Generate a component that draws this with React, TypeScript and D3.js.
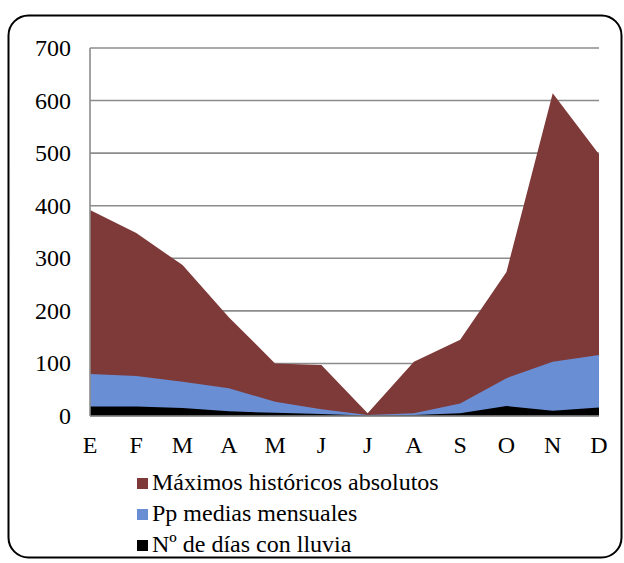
import * as d3 from 'd3';

const months = ['E', 'F', 'M', 'A', 'M', 'J', 'J', 'A', 'S', 'O', 'N', 'D'];
const maximos = [392, 348, 287, 188, 100, 97, 5, 103, 145, 274, 614, 498];
const ppMedias = [80, 76, 65, 53, 27, 13, 2, 5, 24, 72, 103, 116];
const diasLluvia = [18, 18, 15, 9, 6, 4, 1, 2, 5, 19, 10, 16];
const yTicks = [0, 100, 200, 300, 400, 500, 600, 700];

const series = [
  { name: 'Máximos históricos absolutos', values: maximos, color: '#7e3a39' },
  { name: 'Pp medias mensuales', values: ppMedias, color: '#6a8ed4' },
  { name: 'Nº de días con lluvia', values: diasLluvia, color: '#000000' },
];

const width = 624;
const height = 563;
const left = 90;
const right = 599;
const top = 48;
const bottom = 416;
const font = 'Liberation Serif';
const gridColor = '#8c8c8c';
const css = '#lluvia text { font-family: "Liberation Serif", Tinos, "Times New Roman", serif !important; }';

const App = (): React.ReactElement => {
  const xScale = d3
    .scalePoint<number>()
    .domain(months.map((_, i) => i))
    .range([left, right]);
  const yScale = d3.scaleLinear().domain([0, 700]).range([bottom, top]);

  const area = d3
    .area<number>()
    .x((_, i) => xScale(i) ?? 0)
    .y0(yScale(0))
    .y1((d) => yScale(d));

  return (
    <svg id="lluvia" width={width} height={height} style={{ position: 'absolute', left: 0, top: 0 }}>
      <style>{css}</style>
      {/* marco redondeado */}
      <rect x={8.5} y={15.5} width={613} height={542} rx={20} fill="#fff" stroke="#000" strokeWidth={2} />

      {yTicks.map((t) => (
        <line key={'g' + t} x1={left} x2={right} y1={yScale(t)} y2={yScale(t)} stroke={gridColor} strokeWidth={1.6} />
      ))}

      {series.map((s) => (
        <path key={s.name} d={area(s.values) ?? ''} fill={s.color} />
      ))}

      <line x1={left} x2={left} y1={top} y2={bottom} stroke={gridColor} strokeWidth={1.6} />
      <line x1={left} x2={right} y1={bottom} y2={bottom} stroke={gridColor} strokeWidth={1.6} />

      {yTicks.map((t) => (
        <text key={'y' + t} x={71} y={yScale(t) + 8} textAnchor="end" fontFamily={font} fontSize={24}>
          {t}
        </text>
      ))}

      {months.map((m, i) => (
        <text key={'m' + i} x={xScale(i) ?? 0} y={453} textAnchor="middle" fontFamily={font} fontSize={24}>
          {m}
        </text>
      ))}

      {series.map((s, i) => (
        <g key={'l' + s.name} transform={'translate(137,' + (490 + i * 31) + ')'}>
          <rect x={0} y={-12} width={11} height={11} fill={s.color} />
          <text x={15} y={0} fontFamily={font} fontSize={24}>
            {s.name}
          </text>
        </g>
      ))}
    </svg>
  );
};

export default App;
